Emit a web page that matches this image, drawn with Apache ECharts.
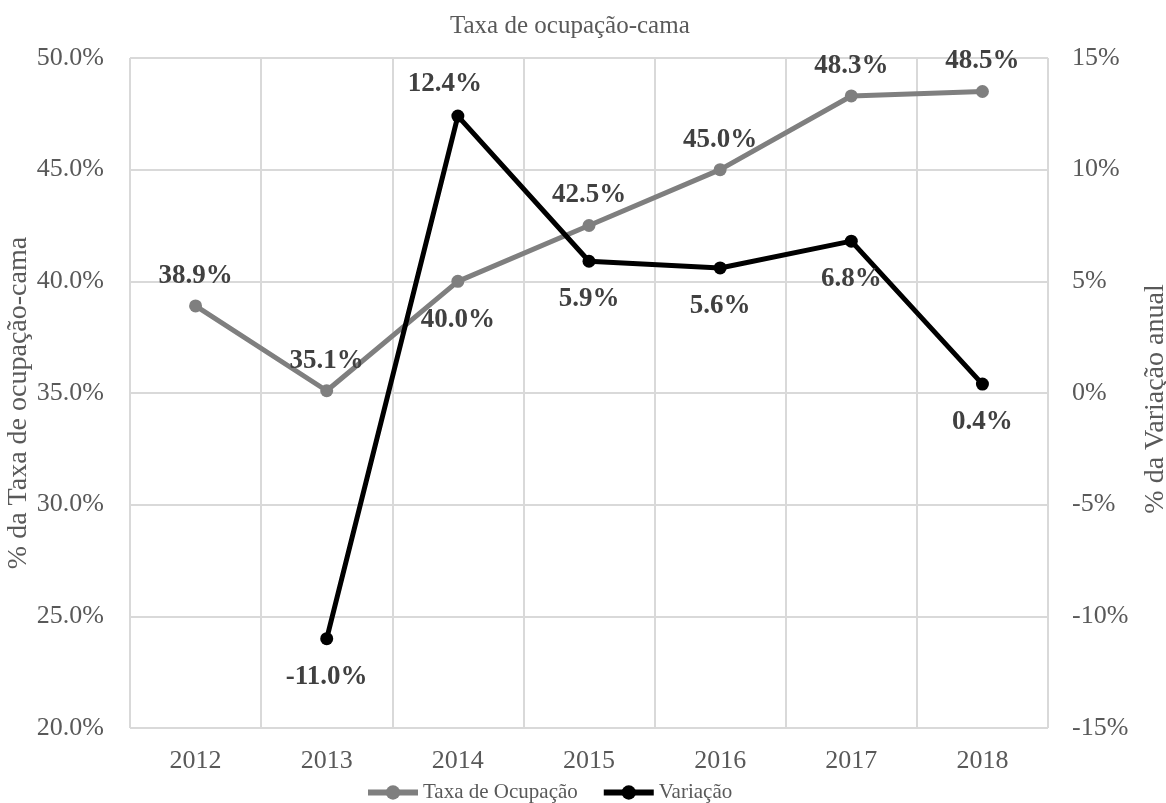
<!DOCTYPE html>
<html>
<head>
<meta charset="utf-8">
<title>Taxa de ocupação-cama</title>
<script src="https://cdn.jsdelivr.net/npm/echarts@6/dist/echarts.min.js"></script>
<style>
  html, body { margin: 0; padding: 0; background: #ffffff; }
  #chart { width: 1166px; height: 803px; }
</style>
</head>
<body>
<div id="chart"></div>
<script>
// Years on the category axis
const years = ['2012', '2013', '2014', '2015', '2016', '2017', '2018'];
// Bed occupancy rate (%), left axis
const taxaOcupacao = [38.9, 35.1, 40.0, 42.5, 45.0, 48.3, 48.5];
// Year-on-year change (%), right axis; no value for the first year
const variacao = [null, -11.0, 12.4, 5.9, 5.6, 6.8, 0.4];
// Where each change label sits relative to its point
const variacaoLabelPos = [null, 'bottom', 'top', 'bottom', 'bottom', 'bottom', 'bottom'];
// Where each occupancy label sits relative to its point
const taxaLabelPos = ['top', 'top', 'bottom', 'top', 'top', 'top', 'top'];

const serif = '"Liberation Serif", "Times New Roman", serif';
const textGray = '#595959';
const labelGray = '#404040';
const gridGray = '#d9d9d9';

const chart = echarts.init(document.getElementById('chart'), null, { renderer: 'canvas' });

const labelStyle = {
  show: true,
  fontFamily: serif,
  fontWeight: 'bold',
  fontSize: 27,
  color: labelGray
};

const taxaData = taxaOcupacao.map((v, i) => ({
  value: v,
  label: { position: taxaLabelPos[i], distance: taxaLabelPos[i] === 'top' ? 10 : 19 }
}));

const variacaoData = variacao.map((v, i) => {
  if (v === null) return null;
  const above = variacaoLabelPos[i] === 'top';
  const item = {
    value: v,
    label: { position: variacaoLabelPos[i], distance: above ? 12 : 18 }
  };
  if (years[i] === '2014') item.label.offset = [-13, 0];
  return item;
});

chart.setOption({
  animation: false,
  backgroundColor: '#ffffff',
  title: {
    text: 'Taxa de ocupação-cama',
    left: 450,
    top: 14,
    padding: 0,
    textStyle: { fontFamily: serif, fontSize: 25, fontWeight: 'normal', color: textGray }
  },
  grid: { left: 130, right: 118, top: 58, bottom: 75, outerBoundsMode: 'none' },
  legend: {
    left: 365,
    top: 782,
    padding: 0,
    itemWidth: 50,
    itemHeight: 18,
    itemGap: 23,
    lineStyle: { width: 6 },
    textStyle: { fontFamily: serif, fontSize: 21, color: textGray },
    data: ['Taxa de Ocupação', 'Variação']
  },
  xAxis: {
    type: 'category',
    data: years,
    boundaryGap: true,
    axisTick: { show: false },
    axisLine: { lineStyle: { color: gridGray, width: 2 } },
    axisLabel: { fontFamily: serif, fontSize: 26, color: textGray, margin: 20 },
    splitLine: { show: true, lineStyle: { color: gridGray, width: 2 } }
  },
  yAxis: [
    {
      type: 'value',
      min: 20,
      max: 50,
      interval: 5,
      position: 'left',
      name: '% da Taxa de ocupação-cama',
      nameLocation: 'middle',
      nameGap: 97,
      nameRotate: 90,
      nameMoveOverlap: false,
      nameTextStyle: { fontFamily: serif, fontSize: 28, color: textGray, padding: [0, 20, 0, 0] },
      axisLine: { show: false },
      axisTick: { show: false },
      axisLabel: {
        fontFamily: serif, fontSize: 26, color: textGray, margin: 26,
        formatter: v => v.toFixed(1) + '%'
      },
      splitLine: { show: true, lineStyle: { color: gridGray, width: 2 } }
    },
    {
      type: 'value',
      min: -15,
      max: 15,
      interval: 5,
      position: 'right',
      name: '% da Variação anual',
      nameLocation: 'middle',
      nameGap: 94,
      nameRotate: 90,
      nameMoveOverlap: false,
      nameTextStyle: { fontFamily: serif, fontSize: 28, color: textGray, padding: [0, 12, 0, 0] },
      axisLine: { show: false },
      axisTick: { show: false },
      axisLabel: {
        fontFamily: serif, fontSize: 26, color: textGray, margin: 24,
        formatter: v => v + '%'
      },
      splitLine: { show: false }
    }
  ],
  series: [
    {
      name: 'Taxa de Ocupação',
      type: 'line',
      yAxisIndex: 0,
      data: taxaData,
      symbol: 'circle',
      symbolSize: 13,
      itemStyle: { color: '#7f7f7f' },
      lineStyle: { color: '#7f7f7f', width: 5 },
      label: Object.assign({}, labelStyle, { formatter: p => p.value.toFixed(1) + '%' }),
      z: 2
    },
    {
      name: 'Variação',
      type: 'line',
      yAxisIndex: 1,
      data: variacaoData,
      connectNulls: false,
      symbol: 'circle',
      symbolSize: 13,
      itemStyle: { color: '#000000' },
      lineStyle: { color: '#000000', width: 5 },
      label: Object.assign({}, labelStyle, { formatter: p => p.value.toFixed(1) + '%' }),
      z: 3
    }
  ]
});
</script>
</body>
</html>
